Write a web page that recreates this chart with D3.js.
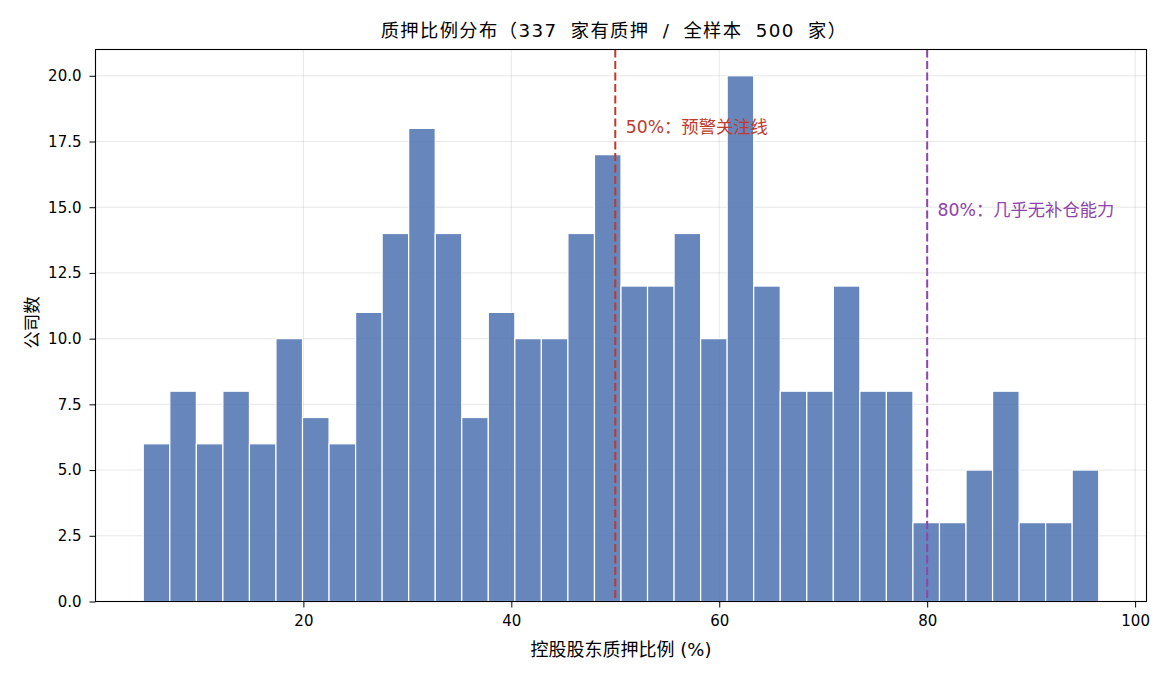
<!DOCTYPE html>
<html>
<head>
<meta charset="utf-8">
<script src="https://cdn.jsdelivr.net/npm/d3@7"></script>
<style>
  html, body { margin: 0; padding: 0; background: #fff; }
  svg { display: block; font-family: "DejaVu Sans", "Noto Sans CJK SC", sans-serif; }
</style>
</head>
<body>
<svg id="chart" width="1170" height="676"></svg>
<script>
// ---- data ----
const binMin = 4.6;
const binMax = 96.5;
const counts = [6, 8, 6, 8, 6, 10, 7, 6, 11, 14, 18, 14, 7, 11, 10, 10, 14, 17, 12, 12,
                14, 10, 20, 12, 8, 8, 12, 8, 8, 3, 3, 5, 8, 3, 3, 5];
const xTicks = [20, 40, 60, 80, 100];
const yTicks = [0, 2.5, 5, 7.5, 10, 12.5, 15, 17.5, 20];
const refLines = [
  { value: 50, label: "50%：预警关注线", labelY: 18.05, color: "#c0392b" },
  { value: 80, label: "80%：几乎无补仓能力", labelY: 14.9, color: "#8e44ad" }
];
const title = "质押比例分布（337 家有质押 / 全样本 500 家）";
const xLabel = "控股股东质押比例 (%)";
const yLabel = "公司数";

// ---- layout ----
const svg = d3.select("#chart");
const margin = { left: 95.5, right: 1146.5, top: 49.5, bottom: 601.5 };

const nb = counts.length;
const bw = (binMax - binMin) / nb;
const bins = counts.map((c, i) => ({ x0: binMin + i * bw, x1: binMin + (i + 1) * bw, c }));

const range = binMax - binMin;
const x = d3.scaleLinear()
  .domain([binMin - 0.05 * range, binMax + 0.05 * range])
  .range([margin.left, margin.right]);
const y = d3.scaleLinear().domain([0, 21]).range([margin.bottom, margin.top]);

// grid
const grid = svg.append("g");
grid.selectAll("line.gx").data(xTicks).join("line")
  .attr("x1", d => x(d)).attr("x2", d => x(d))
  .attr("y1", margin.top).attr("y2", margin.bottom)
  .attr("stroke", "#b0b0b0").attr("stroke-opacity", 0.3).attr("stroke-width", 1);
grid.selectAll("line.gy").data(yTicks).join("line")
  .attr("x1", margin.left).attr("x2", margin.right)
  .attr("y1", d => y(d)).attr("y2", d => y(d))
  .attr("stroke", "#b0b0b0").attr("stroke-opacity", 0.3).attr("stroke-width", 1);

// bars
svg.append("g").selectAll("rect").data(bins).join("rect")
  .attr("x", d => x(d.x0))
  .attr("width", d => x(d.x1) - x(d.x0))
  .attr("y", d => y(d.c))
  .attr("height", d => y(0) - y(d.c))
  .attr("fill", "#4C72B0")
  .attr("fill-opacity", 0.85)
  .attr("stroke", "#ffffff")
  .attr("stroke-width", 1.2);

// reference lines
refLines.forEach(r => {
  svg.append("line")
    .attr("x1", x(r.value)).attr("x2", x(r.value))
    .attr("y1", margin.top).attr("y2", margin.bottom)
    .attr("stroke", r.color).attr("stroke-width", 2)
    .attr("stroke-dasharray", "8,3.5");
  svg.append("text")
    .attr("x", x(r.value + 1)).attr("y", y(r.labelY))
    .attr("dy", "0.35em")
    .attr("fill", r.color)
    .attr("font-size", 17.3)
    .text(r.label);
});

// axes
const xAxis = d3.axisBottom(x).tickValues(xTicks).tickFormat(d3.format("d")).tickSize(6).tickPadding(7.5);
const yAxis = d3.axisLeft(y).tickValues(yTicks).tickFormat(d3.format(".1f")).tickSize(6).tickPadding(8);

const gx = svg.append("g").attr("transform", `translate(0,${margin.bottom})`).call(xAxis);
const gy = svg.append("g").attr("transform", `translate(${margin.left},0)`).call(yAxis);
[gx, gy].forEach(g => {
  g.select(".domain").remove();
  g.selectAll("text").attr("font-size", 15).attr("fill", "#000")
    .attr("font-family", "\"DejaVu Sans\", sans-serif");
  g.selectAll("line").attr("stroke", "#000");
});

// frame
svg.append("rect")
  .attr("x", margin.left).attr("y", margin.top)
  .attr("width", margin.right - margin.left).attr("height", margin.bottom - margin.top)
  .attr("fill", "none").attr("stroke", "#000").attr("stroke-width", 1.1);

// titles
svg.append("text")
  .attr("x", 614).attr("y", 36.5)
  .attr("text-anchor", "middle").attr("font-size", 18.3).attr("fill", "#000")
  .attr("word-spacing", 6).attr("letter-spacing", 1.4)
  .text(title);
svg.append("text")
  .attr("x", (margin.left + margin.right) / 2).attr("y", 656)
  .attr("text-anchor", "middle").attr("font-size", 18).attr("fill", "#000")
  .text(xLabel);
svg.append("text")
  .attr("transform", `translate(38,${(margin.top + margin.bottom) / 2 - 3}) rotate(-90)`)
  .attr("text-anchor", "middle").attr("font-size", 17.5).attr("fill", "#000")
  .text(yLabel);
</script>
</body>
</html>
